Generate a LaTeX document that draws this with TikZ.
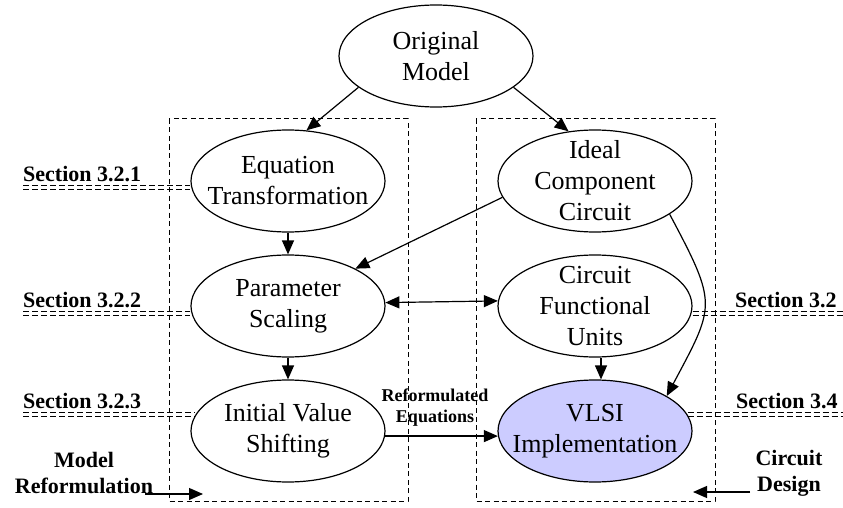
\documentclass[tikz,border=0pt]{standalone}
\usepackage{fontspec}
\setmainfont{Liberation Serif}
\usetikzlibrary{shapes.geometric,arrows.meta}
\definecolor{vlsifill}{RGB}{204,204,255}

\begin{document}
\begin{tikzpicture}[x=1pt,y=-1pt,
  stage/.style={ellipse, draw, line width=1.2pt, minimum width=194pt,
    minimum height=102pt, inner xsep=-45pt, inner ysep=-30pt, align=center,
    font=\fontsize{26}{31}\selectfont},
  frame/.style={draw, line width=1pt, dash pattern=on 5pt off 3.5pt},
  secline/.style={line width=1pt, dash pattern=on 6pt off 3pt},
  sec/.style={inner sep=0pt, font=\bfseries\fontsize{22}{26}\selectfont},
  side/.style={inner sep=0pt, align=center, font=\bfseries\fontsize{22}{26}\selectfont},
  small/.style={inner sep=0pt, align=center, font=\bfseries\fontsize{18}{21}\selectfont},
  arr/.style={line width=1.2pt, -{Triangle[length=14pt,width=12pt]}},
  dblarr/.style={line width=1.2pt, {Triangle[length=14pt,width=12pt]}-{Triangle[length=14pt,width=12pt]}},
]
\useasboundingbox (0,0) rectangle (843,508);

% the two groups of steps
\draw[frame] (169,119) rectangle (408,501);
\draw[frame] (476,119) rectangle (715,501);

% steps
\node[stage] (orig)  at (436,56)  {Original\\Model};
\node[stage] (eq)    at (288,181) {Equation\\Transformation};
\node[stage] (param) at (288,306) {Parameter\\Scaling};
\node[stage] (init)  at (288,431) {Initial Value\\Shifting};
\node[stage] (ideal) at (595,181) {Ideal\\Component\\Circuit};
\node[stage] (cfu)   at (595,306) {Circuit\\Functional\\Units};
\node[stage, fill=vlsifill] (vlsi) at (595,431) {VLSI\\Implementation};

% section references
\coordinate (rim) at (843,0);
\node[sec, anchor=base west] (s321) at (23,181) {Section 3.2.1};
\node[sec, anchor=base west] (s322) at (23,307) {Section 3.2.2};
\node[sec, anchor=base west] (s323) at (23,408) {Section 3.2.3};
\node[sec, anchor=base west] (s32)  at (735,307) {Section 3.2};
\node[sec, anchor=base west] (s34)  at (736,408) {Section 3.4};

\foreach \d in {4.5,8} {
  \draw[secline] ([yshift=-\d pt]s321.base west) -- ([yshift=-\d pt]s321.base west -| eq.west);
  \draw[secline] ([yshift=-\d pt]s322.base west) -- ([yshift=-\d pt]s322.base west -| param.west);
  \draw[secline] ([yshift=-\d pt]s323.base west) -- ([yshift=-\d pt]s323.base west -| init.170);
  \draw[secline] ([yshift=-\d pt]s32.base west -| cfu.east) -- ([yshift=-\d pt]s32.base west -| rim);
  \draw[secline] ([yshift=-\d pt]s34.base west -| vlsi.10) -- ([yshift=-\d pt]s34.base west -| rim);
}

% side captions
\node[side] (mref) at (84,473) {Model\\Reformulation};
\node[side] (cdes) at (789,473) {Circuit\\Design};
\node[small] (reqs) at (435,408) {Reformulated\\Equations};
\coordinate (mrA) at (145,494);
\coordinate (mrB) at (203,494);
\coordinate (cdA) at (750,492);
\coordinate (cdB) at (693,492);

% flow
\draw[arr] (orig.202) -- (eq.70);
\draw[arr] (orig.338.6) -- (ideal.118);
\draw[arr] (eq.south) -- (param.north);
\draw[arr] (ideal.190) -- (param.29);
\draw[dblarr] (param.2.4) -- (cfu.177.6);
\draw[arr] (param.south) -- (init.north);
\draw[arr] ([xshift=6pt]cfu.south) -- ([xshift=6pt]vlsi.north);
\draw[arr] (ideal.336) to[out=-62, in=62, looseness=1.45] (vlsi.26);
\draw[arr] (init.-3.5) -- (vlsi.183.5);
\draw[arr] (mrA) -- (mrB);
\draw[arr] (cdA) -- (cdB);
\end{tikzpicture}
\end{document}
